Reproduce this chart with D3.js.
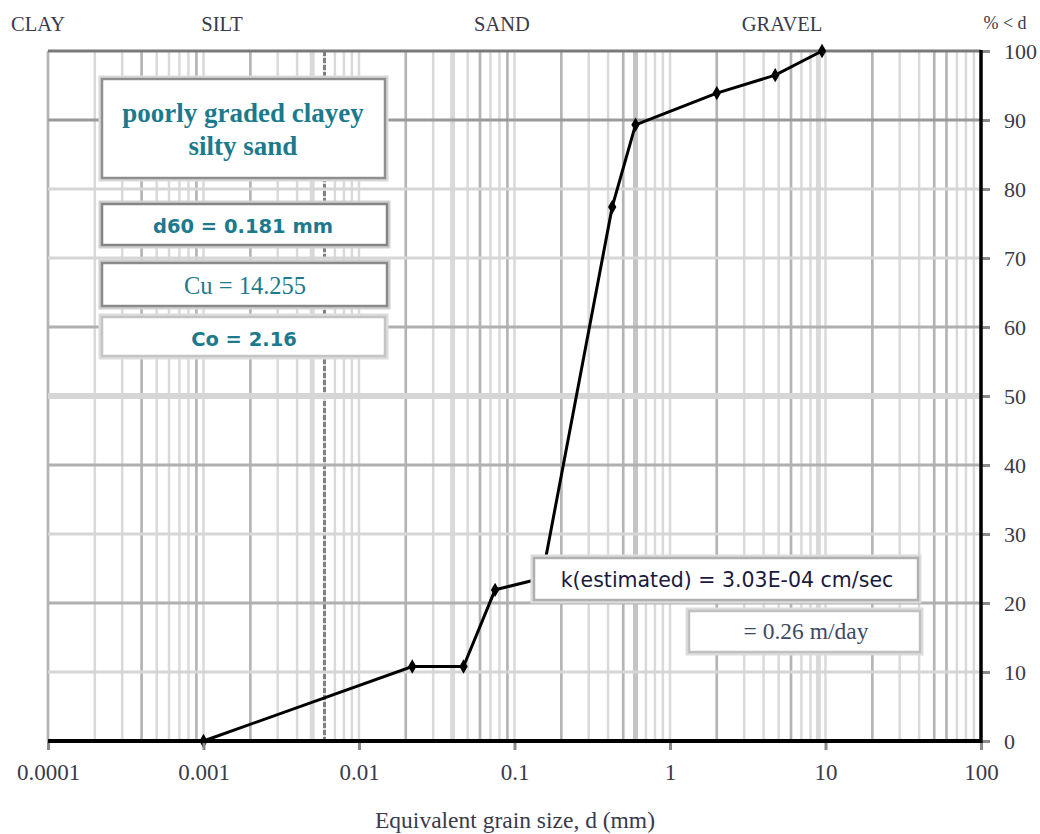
<!DOCTYPE html>
<html>
<head>
<meta charset="utf-8">
<script src="https://cdn.jsdelivr.net/npm/d3@7"></script>
<style>
  html, body { margin: 0; padding: 0; background: #ffffff; }
  svg { display: block; }
</style>
</head>
<body>
<svg id="chart" width="1040" height="834"></svg>
<script>
// ---------- data ----------
const grainSize = [0.001, 0.022, 0.047, 0.075, 0.15, 0.425, 0.6, 2.0, 4.75, 9.5];
const percentFiner = [0, 10.8, 10.8, 21.9, 23.6, 77.4, 89.3, 93.9, 96.5, 100];
const xTickValues = [0.0001, 0.001, 0.01, 0.1, 1, 10, 100];
const xTickLabels = ["0.0001", "0.001", "0.01", "0.1", "1", "10", "100"];
const yTickValues = [0, 10, 20, 30, 40, 50, 60, 70, 80, 90, 100];
const zoneLabels = ["CLAY", "SILT", "SAND", "GRAVEL", "% < d"];
const soilName = ["poorly graded clayey", "silty sand"];
const d60Text = "d60 = 0.181 mm";
const cuText = "Cu = 14.255";
const ccText = "Co = 2.16";
const kText = "k(estimated) = 3.03E-04 cm/sec";
const kDayText = "= 0.26 m/day";
const xTitle = "Equivalent grain size, d (mm)";
// emphasised grid lines (as drawn on the sheet)
const mediumGridD = [0.0001, 0.0004, 0.0009, 0.002, 0.02, 0.06, 0.09, 0.2, 0.5, 2, 6, 20, 50, 60];
const wideLightGridD = [0.005, 0.04, 9];
const darkGridD = [0.006];
const wideGridD = [0.6];
const mediumGridPct = [20, 40, 60];
const darkGridPct = [90];
const wideLightGridPct = [50];

// ---------- layout ----------
const plotL = 48, plotR = 981, plotT = 51, plotB = 741;
const serif = "'Liberation Serif', 'Times New Roman', serif";
const sans = "'DejaVu Sans', Verdana, sans-serif";
const teal = "#1c7a8c";

const svg = d3.select("#chart");
const x = d3.scaleLog().domain([0.0001, 100]).range([plotL, plotR]);
const y = d3.scaleLinear().domain([0, 100]).range([plotB, plotT]);

// all minor grid positions
const allD = [];
for (let e = -4; e <= 1; e++) for (let k = 1; k <= 9; k++) allD.push(+(k * Math.pow(10, e)).toPrecision(3));
allD.push(100);

const grid = svg.append("g");
function vlines(data, color, width, dash) {
  grid.append("g").selectAll("line").data(data).join("line")
    .attr("x1", d => x(d)).attr("x2", d => x(d)).attr("y1", plotT).attr("y2", plotB)
    .attr("stroke", color).attr("stroke-width", width)
    .attr("stroke-dasharray", dash || null);
}
vlines(allD, "#d9d9d9", 2.5);
vlines(wideLightGridD, "#d9d9d9", 5);
vlines(mediumGridD, "#b4b4b4", 2.5);
vlines(wideGridD, "#c4c4c4", 5);
vlines(darkGridD, "#808080", 3, "5,2");

const hPct = yTickValues.filter(v => v > 0 && v < 100);
grid.append("g").selectAll("line").data(hPct).join("line")
  .attr("x1", plotL).attr("x2", plotR).attr("y1", d => y(d)).attr("y2", d => y(d))
  .attr("stroke", d => darkGridPct.includes(d) ? "#9a9a9a" : mediumGridPct.includes(d) ? "#b0b0b0" : "#d6d6d6")
  .attr("stroke-width", d => wideLightGridPct.includes(d) ? 6 : 3);

// top border
svg.append("line").attr("x1", plotL).attr("x2", plotR).attr("y1", y(100)).attr("y2", y(100))
  .attr("stroke", "#7a7a7a").attr("stroke-width", 3);

// ---------- data line ----------
const pts = grainSize.map((d, i) => [d, percentFiner[i]]);
svg.append("path").datum(pts)
  .attr("fill", "none").attr("stroke", "#000").attr("stroke-width", 3)
  .attr("d", d3.line().x(d => x(d[0])).y(d => y(d[1])));
svg.append("g").selectAll("path").data(pts).join("path")
  .attr("transform", d => `translate(${x(d[0])},${y(d[1])})`)
  .attr("d", d3.symbol().type(d3.symbolDiamond).size(60))
  .attr("fill", "#000");

// ---------- annotation boxes ----------
function box(x0, y0, x1, y1, inner, outer) {
  svg.append("rect").attr("x", x0 - 2).attr("y", y0 - 2).attr("width", x1 - x0 + 4).attr("height", y1 - y0 + 4)
    .attr("fill", "#fff").attr("stroke", outer).attr("stroke-width", 3);
  svg.append("rect").attr("x", x0).attr("y", y0).attr("width", x1 - x0).attr("height", y1 - y0)
    .attr("fill", "#fff").attr("stroke", inner).attr("stroke-width", 2.5);
}
box(102, 79, 385, 178, "#8f8f8f", "#d8d8d8");
svg.append("g").selectAll("text").data(soilName).join("text")
  .attr("x", 243).attr("y", (d, i) => 122 + i * 33)
  .attr("text-anchor", "middle").attr("font-family", serif).attr("font-weight", "bold")
  .attr("font-size", 27).attr("fill", teal).text(d => d);

box(102, 204, 387, 245, "#858585", "#d0d0d0");
svg.append("text").attr("x", 243).attr("y", 233).attr("text-anchor", "middle")
  .attr("font-family", sans).attr("font-weight", "bold").attr("font-size", 19.5)
  .attr("fill", teal).text(d60Text);

box(102, 263, 387, 306, "#8a8a8a", "#d0d0d0");
svg.append("text").attr("x", 245).attr("y", 294).attr("text-anchor", "middle")
  .attr("font-family", serif).attr("font-size", 24.5)
  .attr("fill", teal).text(cuText);

box(102, 317, 385, 356, "#c4c4c4", "#dcdcdc");
svg.append("text").attr("x", 244).attr("y", 346).attr("text-anchor", "middle")
  .attr("font-family", sans).attr("font-weight", "bold").attr("font-size", 19.5)
  .attr("fill", teal).text(ccText);

box(534, 558, 918, 600, "#b0b0b0", "#dcdcdc");
svg.append("text").attr("x", 727).attr("y", 587).attr("text-anchor", "middle")
  .attr("font-family", sans).attr("font-size", 20.5)
  .attr("fill", "#1a1a3c").text(kText);

box(689, 611, 920, 652, "#c0c0c0", "#dcdcdc");
svg.append("text").attr("x", 806).attr("y", 639).attr("text-anchor", "middle")
  .attr("font-family", serif).attr("font-size", 23.5)
  .attr("fill", "#3c4a66").text(kDayText);

// ---------- axes ----------
const xAxis = d3.axisBottom(x).tickValues(xTickValues)
  .tickFormat((d, i) => xTickLabels[i]).tickSize(9).tickPadding(14);
const gx = svg.append("g").attr("transform", `translate(0,${plotB})`).call(xAxis);
gx.select(".domain").remove();
gx.selectAll(".tick line").attr("stroke", "#8a8a8a").attr("stroke-width", 3);
gx.selectAll(".tick text").attr("font-family", serif).attr("font-size", 23)
  .attr("fill", "#3a3a4a");
svg.append("line").attr("x1", plotL).attr("x2", plotR).attr("y1", plotB).attr("y2", plotB)
  .attr("stroke", "#000").attr("stroke-width", 4);

const yAxis = d3.axisRight(y).tickValues(yTickValues).tickSize(9).tickPadding(14);
const gy = svg.append("g").attr("transform", `translate(${plotR},0)`).call(yAxis);
gy.select(".domain").remove();
gy.selectAll(".tick line").attr("stroke", "#8a8a8a").attr("stroke-width", 3);
gy.selectAll(".tick text").attr("font-family", serif).attr("font-size", 22)
  .attr("fill", "#3a3a4a");
svg.append("line").attr("x1", plotR).attr("x2", plotR).attr("y1", plotT - 1).attr("y2", plotB + 2)
  .attr("stroke", "#000").attr("stroke-width", 3.5);

// zone labels (top)
const zoneX = [38, 222, 502, 782, 1005];
svg.append("g").selectAll("text").data(zoneLabels).join("text")
  .attr("x", (d, i) => zoneX[i]).attr("y", (d, i) => i === 4 ? 29 : 31)
  .attr("text-anchor", "middle").attr("font-family", serif)
  .attr("font-size", (d, i) => i === 4 ? 18 : 20.5)
  .attr("fill", "#3a3a4a").text(d => d);

// x title
svg.append("text").attr("x", 515).attr("y", 828).attr("text-anchor", "middle")
  .attr("font-family", serif).attr("font-size", 23.5).attr("fill", "#3a3a4a").text(xTitle);
</script>
</body>
</html>
